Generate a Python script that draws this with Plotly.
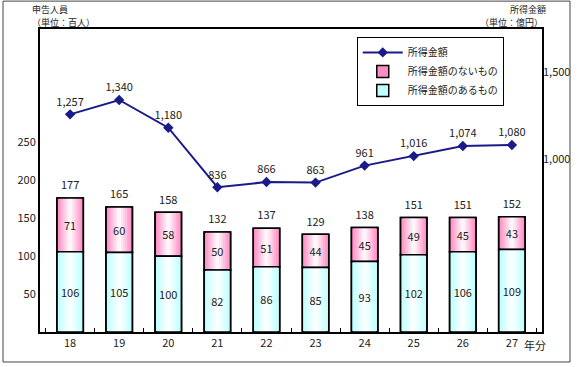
import plotly.graph_objects as go

years = ["18", "19", "20", "21", "22", "23", "24", "25", "26", "27"]
with_income = [106, 105, 100, 82, 86, 85, 93, 102, 106, 109]
without_income = [71, 60, 58, 50, 51, 44, 45, 49, 45, 43]
totals = [177, 165, 158, 132, 137, 129, 138, 151, 151, 152]
income_amount = [1257, 1340, 1180, 836, 866, 863, 961, 1016, 1074, 1080]
left_ticks = [50, 100, 150, 200, 250]
right_ticks = [1000, 1500]

FONT = "Noto Sans CJK JP"
BAR_W = 0.54
PINK = (255, 140, 195)
CYAN = (190, 255, 255)

fig = go.Figure()

# line series (first in legend)
fig.add_trace(go.Scatter(
    x=years, y=income_amount, yaxis="y2", name="所得金額",
    mode="lines+markers+text",
    line=dict(color="#1a1a8a", width=2),
    marker=dict(symbol="diamond", size=8, color="#1a1a8a"),
    text=[f"{v:,}" for v in income_amount], textposition="top center",
    textfont=dict(size=11, color="#222", family=FONT),
    cliponaxis=False, legendrank=1,
))


def mix(c, t):
    return "rgb(%d,%d,%d)" % tuple(round(ci + (255 - ci) * t) for ci in c)


def gradient_bars(vals, base, color, name, rank):
    n = 7
    for i in range(n):
        frac = 1 - i / n
        t = i / (n - 1) * 0.92
        fig.add_trace(go.Bar(
            x=years, y=vals, base=base, width=BAR_W * frac,
            marker=dict(color=mix(color, t),
                        line=dict(width=1.5 if i == 0 else 0, color="black")),
            name=name, showlegend=(i == 0), legendrank=rank,
            hoverinfo="skip" if i else None,
        ))
    fig.add_trace(go.Bar(
        x=years, y=vals, base=base, width=BAR_W,
        marker=dict(color="rgba(0,0,0,0)", line=dict(width=1.5, color="black")),
        text=vals, textposition="inside", insidetextanchor="middle",
        textfont=dict(size=11, color="#222", family=FONT),
        showlegend=False, hoverinfo="skip",
    ))


gradient_bars(without_income, with_income, PINK, "所得金額のないもの", 2)
gradient_bars(with_income, [0] * len(years), CYAN, "所得金額のあるもの", 3)

# totals above bars
fig.add_trace(go.Scatter(
    x=years, y=totals, mode="markers+text", text=totals, textposition="top center",
    marker=dict(size=8, opacity=0),
    textfont=dict(size=11, color="#222", family=FONT), showlegend=False,
    cliponaxis=False, hoverinfo="skip",
))

fig.update_layout(
    width=580, height=367,
    margin=dict(l=40, r=38, t=29, b=35, autoexpand=False),
    paper_bgcolor="white", plot_bgcolor="white",
    barmode="overlay",
    font=dict(family=FONT, size=11, color="#222"),
    xaxis=dict(type="category", showline=True, linewidth=2, linecolor="black",
               mirror=True, ticks="inside", tickson="boundaries", ticklen=4,
               tickcolor="black", showgrid=False, tickfont=dict(size=11),
               automargin=False),
    yaxis=dict(range=[0, 400], tickvals=left_ticks, showgrid=False,
               showline=True, linewidth=2, linecolor="black", mirror=True,
               ticks="", zeroline=False, tickfont=dict(size=11),
               automargin=False),
    yaxis2=dict(range=[0, 1750], tickvals=right_ticks, overlaying="y",
                side="right", showgrid=False, showline=False, ticks="",
                tickformat=",", zeroline=False, tickfont=dict(size=11),
                automargin=False),
    legend=dict(x=0.631, y=0.974, xanchor="left", yanchor="top",
                bordercolor="black", borderwidth=1, bgcolor="white",
                font=dict(size=10), traceorder="normal", itemwidth=40,
                tracegroupgap=0),
    showlegend=True,
)

fig.add_shape(type="rect", xref="paper", yref="paper",
              x0=-0.0737, x1=1.0558, y0=-0.099, y1=1.092,
              line=dict(color="#444", width=1), layer="above")

ann = dict(xref="paper", yref="paper", showarrow=False, yanchor="middle",
           font=dict(size=9, color="#222"))
fig.add_annotation(text="申告人員", x=-0.02, y=1.066, **ann)
fig.add_annotation(text="（単位：百人）", x=-0.02, y=1.023, **ann)
fig.add_annotation(text="所得金額", x=1.012, y=1.066, **ann)
fig.add_annotation(text="（単位：億円）", x=1.006, y=1.023, **ann)
fig.add_annotation(text="年分", x=1.012, y=-0.043,
                   **{**ann, "font": dict(size=11, color="#222")})

fig.write_html("out.html", config={"displayModeBar": False},
               post_script="document.body.style.margin='0';document.body.style.overflow='hidden';")
